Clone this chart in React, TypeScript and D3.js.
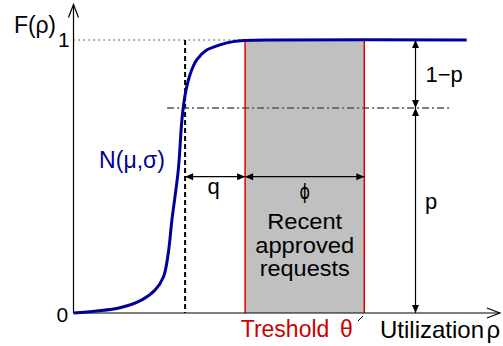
import React from "react";
import * as d3 from "d3";

// data (utilization units on x, cumulative probability on y)
const curveX = [0, 0.58, 1.16, 1.71, 2.04, 2.25, 2.37, 2.46, 2.62, 2.71, 2.79, 2.91, 3.08, 3.33, 3.66, 3.99, 4.29, 5.0, 9.83];
const curveY = [0, 0.007, 0.019, 0.048, 0.084, 0.133, 0.22, 0.34, 0.524, 0.707, 0.799, 0.872, 0.927, 0.963, 0.982, 0.994, 0.998, 1, 1];
const threshold = 4.29;
const phiWidth = 2.98;
const muLine = 2.79;
const pLevel = 0.751;
const pArrowX = 8.55;
const dashDotRange = [2.34, 9.41];
const axisEnds = [10.66, 1.13];
const boxLines = ["Recent", "approved", "requests"];

const W = 503, H = 346;
const x = d3.scaleLinear().domain([0, 10]).range([73.5, 473.5]);
const y = d3.scaleLinear().domain([0, 1]).range([313, 40]);

function headH(tipX: number, yy: number, dir: number, len = 8, hw = 3.5) {
  return `M${tipX},${yy}L${tipX - dir * len},${yy - hw}L${tipX - dir * len},${yy + hw}Z`;
}
function headV(xx: number, tipY: number, dir: number, len = 8, hw = 3.5) {
  return `M${xx},${tipY}L${xx - hw},${tipY - dir * len}L${xx + hw},${tipY - dir * len}Z`;
}

export default function App() {
  const pts = curveX.map((d, i) => [d, curveY[i]] as [number, number]);
  const line = d3.line<[number, number]>().x(d => x(d[0])).y(d => y(d[1])).curve(d3.curveCatmullRom.alpha(0.5));
  const x0 = x(0), y0 = y(0), y1 = y(1);
  const xT = x(threshold), xT2 = x(threshold + phiWidth), xM = x(muLine);
  const xP = x(pArrowX), yP = y(pLevel);
  const xEnd = x(axisEnds[0]), yTop = y(axisEnds[1]);
  const yArr = 176.7;
  const font = "'Liberation Sans', Arial, sans-serif";
  return (
    <svg width={W} height={H} style={{ position: "absolute", left: 0, top: 0 }} fontFamily={font}>
      <rect x={0} y={0} width={W} height={H} fill="#fff" />
      {/* shaded region */}
      <rect x={xT} y={y1} width={xT2 - xT} height={y0 - y1} fill="#c0c0c0" />
      {/* guides */}
      <line x1={x0} x2={xT} y1={y1} y2={y1} stroke="#000" strokeWidth={1} strokeDasharray="1.2,3.8" />
      <line x1={xM} x2={xM} y1={y1} y2={y0} stroke="#000" strokeWidth={2} strokeDasharray="5,3" />
      <line x1={x(dashDotRange[0])} x2={x(dashDotRange[1])} y1={yP} y2={yP} stroke="#555" strokeWidth={1.5} strokeDasharray="7,3,2,3" />
      {/* red threshold lines */}
      <line x1={xT} x2={xT} y1={y1} y2={y0} stroke="#e00000" strokeWidth={1.5} />
      <line x1={xT2} x2={xT2} y1={y1} y2={y0} stroke="#e00000" strokeWidth={1.5} />
      {/* axes */}
      <line x1={x0} x2={x0} y1={y0} y2={yTop} stroke="#000" strokeWidth={1.2} />
      <path d={`M${x0 - 5},${yTop + 13}L${x0},${yTop}L${x0 + 5},${yTop + 13}`} fill="none" stroke="#000" strokeWidth={1.2} />
      <line x1={x0} x2={xEnd} y1={y0} y2={y0} stroke="#000" strokeWidth={1.2} />
      <path d={`M${xEnd - 13},${y0 - 5}L${xEnd},${y0}L${xEnd - 13},${y0 + 5}`} fill="none" stroke="#000" strokeWidth={1.2} />
      <line x1={358} x2={363} y1={321} y2={316} stroke="#000" strokeWidth={1} />
      {/* curve */}
      <path d={line(pts) || ""} fill="none" stroke="#000099" strokeWidth={3} />
      {/* horizontal arrows */}
      <line x1={xM} x2={xT} y1={yArr} y2={yArr} stroke="#000" strokeWidth={1.2} />
      <path d={headH(xM, yArr, -1)} fill="#000" />
      <path d={headH(xT, yArr, 1)} fill="#000" />
      <line x1={xT} x2={xT2} y1={yArr} y2={yArr} stroke="#000" strokeWidth={1.2} />
      <path d={headH(xT, yArr, -1)} fill="#000" />
      <path d={headH(xT2, yArr, 1)} fill="#000" />
      {/* vertical arrows */}
      <line x1={xP} x2={xP} y1={y1} y2={yP} stroke="#000" strokeWidth={1.2} />
      <path d={headV(xP, y1, -1)} fill="#000" />
      <path d={headV(xP, yP, 1)} fill="#000" />
      <line x1={xP} x2={xP} y1={yP} y2={y0} stroke="#000" strokeWidth={1.2} />
      <path d={headV(xP, yP, -1)} fill="#000" />
      <path d={headV(xP, y0, 1)} fill="#000" />
      {/* texts */}
      <text x={14} y={33} fontSize={23} fill="#000" textLength={42} lengthAdjust="spacing">F(ρ)</text>
      <text x={58} y={46.5} fontSize={21} fill="#000">1</text>
      <text x={56.5} y={321.5} fontSize={21} fill="#000">0</text>
      <text x={132} y={168.3} fontSize={23} fill="#000099" textAnchor="middle">N(μ,σ)</text>
      <text x={213.5} y={194} fontSize={22} fill="#000" textAnchor="middle">q</text>
      <text x={(xT + xT2) / 2} y={199} fontSize={20} fill="#000" textAnchor="middle" fontFamily="'DejaVu Sans', sans-serif"
        transform={`translate(${(xT + xT2) / 2},199) scale(0.8,1.1) translate(${-(xT + xT2) / 2},-199)`}>ϕ</text>
      {boxLines.map((t, i) => (
        <text key={t} x={(xT + xT2) / 2} y={229.3 + i * 23.4} fontSize={22} fill="#000" textAnchor="middle"
          textLength={[75, 99, 90][i]} lengthAdjust="spacingAndGlyphs">{t}</text>
      ))}
      <text x={425.5} y={81.7} fontSize={22} fill="#000">1−p</text>
      <text x={425} y={209.3} fontSize={22} fill="#000">p</text>
      <text x={240.7} y={337.3} fontSize={23} fill="#cc0000">Treshold</text>
      <text x={340} y={337.3} fontSize={23} fill="#cc0000">θ</text>
      <text x={380} y={337.5} fontSize={24} fill="#000">Utilization</text>
      <text x={486.5} y={337.5} fontSize={24} fill="#000">ρ</text>
    </svg>
  );
}
